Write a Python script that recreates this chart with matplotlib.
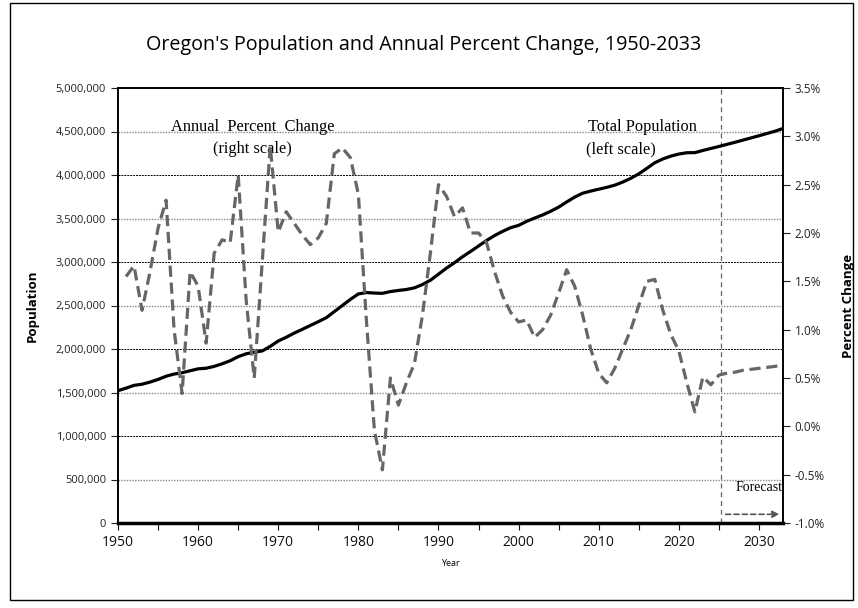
import numpy as np
import matplotlib
matplotlib.use("Agg")
from matplotlib import pyplot as plt
from matplotlib.ticker import FuncFormatter, MultipleLocator
from matplotlib.patches import Rectangle

# population, thousands, 1950-2033
pop_years = list(range(1950, 2034))
population = [1521, 1550, 1582, 1595, 1620, 1650, 1687, 1712, 1727, 1750,
              1772, 1779, 1800, 1830, 1865, 1912, 1945, 1963, 1978, 2030,
              2092, 2135, 2183, 2226, 2270, 2314, 2360, 2430, 2500, 2570,
              2633, 2649, 2643, 2640, 2660, 2673, 2684, 2703, 2741, 2791,
              2860, 2930, 2992, 3060, 3121, 3184, 3247, 3304, 3352, 3394,
              3421, 3467, 3505, 3541, 3583, 3631, 3690, 3746, 3791, 3815,
              3837, 3858, 3883, 3919, 3962, 4013, 4076, 4141, 4184, 4217,
              4241, 4256, 4257, 4282, 4305, 4328, 4352, 4376, 4401, 4426,
              4451, 4477, 4503, 4535]

# annual percent change, 1951-2033
pct_years = list(range(1951, 2034))
pct_change = [1.55, 1.66, 1.20, 1.60, 2.05, 2.34, 1.00, 0.34, 1.60,
              1.45, 0.86, 1.79, 1.93, 1.90, 2.60, 1.30, 0.50, 1.70, 2.90,
              2.01, 2.22, 2.10, 1.98, 1.88, 1.95, 2.10, 2.82, 2.88, 2.78,
              2.40, 1.10, -0.04, -0.45, 0.50, 0.22, 0.45, 0.65, 1.15, 1.80,
              2.50, 2.38, 2.17, 2.26, 2.00, 2.00, 1.90, 1.60, 1.35, 1.18,
              1.08, 1.10, 0.92, 1.00, 1.15, 1.38, 1.62, 1.45, 1.15, 0.80,
              0.55, 0.45, 0.60, 0.80, 1.00, 1.25, 1.50, 1.52, 1.20, 0.95,
              0.78, 0.45, 0.15, 0.51, 0.43, 0.53, 0.55, 0.56, 0.58, 0.59,
              0.60, 0.61, 0.62, 0.64]

forecast_start = 2025.3

sans = ['Open Sans', 'DejaVu Sans']
serif = ['Liberation Serif', 'DejaVu Serif']

fig = plt.figure(figsize=(8.58, 6.08), dpi=100)
fig.patches.append(Rectangle((10/858, 1-600/608), 843/858, 597/608,
                             transform=fig.transFigure, fill=False,
                             edgecolor='black', linewidth=1.0))

ax = fig.add_axes([118/858, 1-523/608, 665/858, 435/608])
ax2 = ax.twinx()

# horizontal grid, alternating styles like the original
for k, v in enumerate(np.arange(500000, 5000001, 500000)):
    if k % 2 == 0:
        ax.axhline(v, color='#888888', linestyle=(0, (1, 1)), linewidth=1.0, zorder=1)
    else:
        ax.axhline(v, color='black', linestyle=(0, (2, 1)), linewidth=0.7, zorder=1)

ax.axvline(forecast_start, color='#666666', linestyle=(0, (4, 3)), linewidth=0.9, zorder=1)

ax.plot(pop_years, np.array(population) * 1000, color='black', linewidth=2.3,
        solid_capstyle='round', zorder=3)
ax2.plot(pct_years, pct_change, color='#666666', linewidth=2.3,
         linestyle=(0, (3.5, 1.8)), zorder=3)

ax.set_xlim(1950, 2033)
ax.set_ylim(0, 5000000)
ax2.set_ylim(-1.0, 3.5)

ax.xaxis.set_major_locator(MultipleLocator(10))
ax.xaxis.set_minor_locator(MultipleLocator(5))
ax.yaxis.set_major_locator(MultipleLocator(500000))
ax2.yaxis.set_major_locator(MultipleLocator(0.5))
ax.yaxis.set_major_formatter(FuncFormatter(lambda v, p: f"{int(v):,}"))
ax2.yaxis.set_major_formatter(FuncFormatter(lambda v, p: f"{v:.1f}%"))

ax.tick_params(axis='x', which='both', direction='out', length=5, width=0.8, pad=4,
               labelsize=10, colors='#111111')
ax.tick_params(axis='y', direction='out', length=5, width=0.8, labelsize=8,
               colors='#222222')
ax2.tick_params(axis='y', direction='out', length=5, width=0.8, labelsize=8.5,
                colors='#222222')
for lab in ax.get_xticklabels() + ax.get_yticklabels() + ax2.get_yticklabels():
    lab.set_family(sans)

for a in (ax, ax2):
    for s in a.spines.values():
        s.set_linewidth(1.2)
ax.spines['bottom'].set_linewidth(2.5)

ax.set_ylabel('Population', family=sans, fontsize=9.5, fontweight='bold', labelpad=12)
ax2.set_ylabel('Percent Change', family=sans, fontsize=9.5, fontweight='bold',
               rotation=90, labelpad=12)
ax.set_xlabel('Year', family=sans, fontsize=6.5, labelpad=6)

fig.text(0.5 * (147 + 700) / 858, 1 - 45/608,
         "Oregon's Population and Annual Percent Change, 1950-2033",
         family=sans, fontsize=14.2, ha='center', va='center')

ax.text(1966.8, 4550000, 'Annual  Percent  Change', family=serif, fontsize=11.8,
        ha='center', va='center')
ax.text(1966.8, 4300000, '(right scale)', family=serif, fontsize=11.8,
        ha='center', va='center')
ax.text(2008.6, 4550000, 'Total Population', family=serif, fontsize=11.8,
        ha='left', va='center')
ax.text(2008.4, 4300000, '(left scale)', family=serif, fontsize=11.8,
        ha='left', va='center')
ax.text(2032.9, 410000, 'Forecast', family=serif, fontsize=10, ha='right', va='center')
ax.annotate('', xy=(2032.9, 100000), xytext=(forecast_start + 0.2, 100000),
            arrowprops=dict(arrowstyle='-|>', color='#555555', linewidth=1.2,
                            linestyle=(0, (3, 2)), mutation_scale=10))

fig.savefig('out.png', dpi=100)
